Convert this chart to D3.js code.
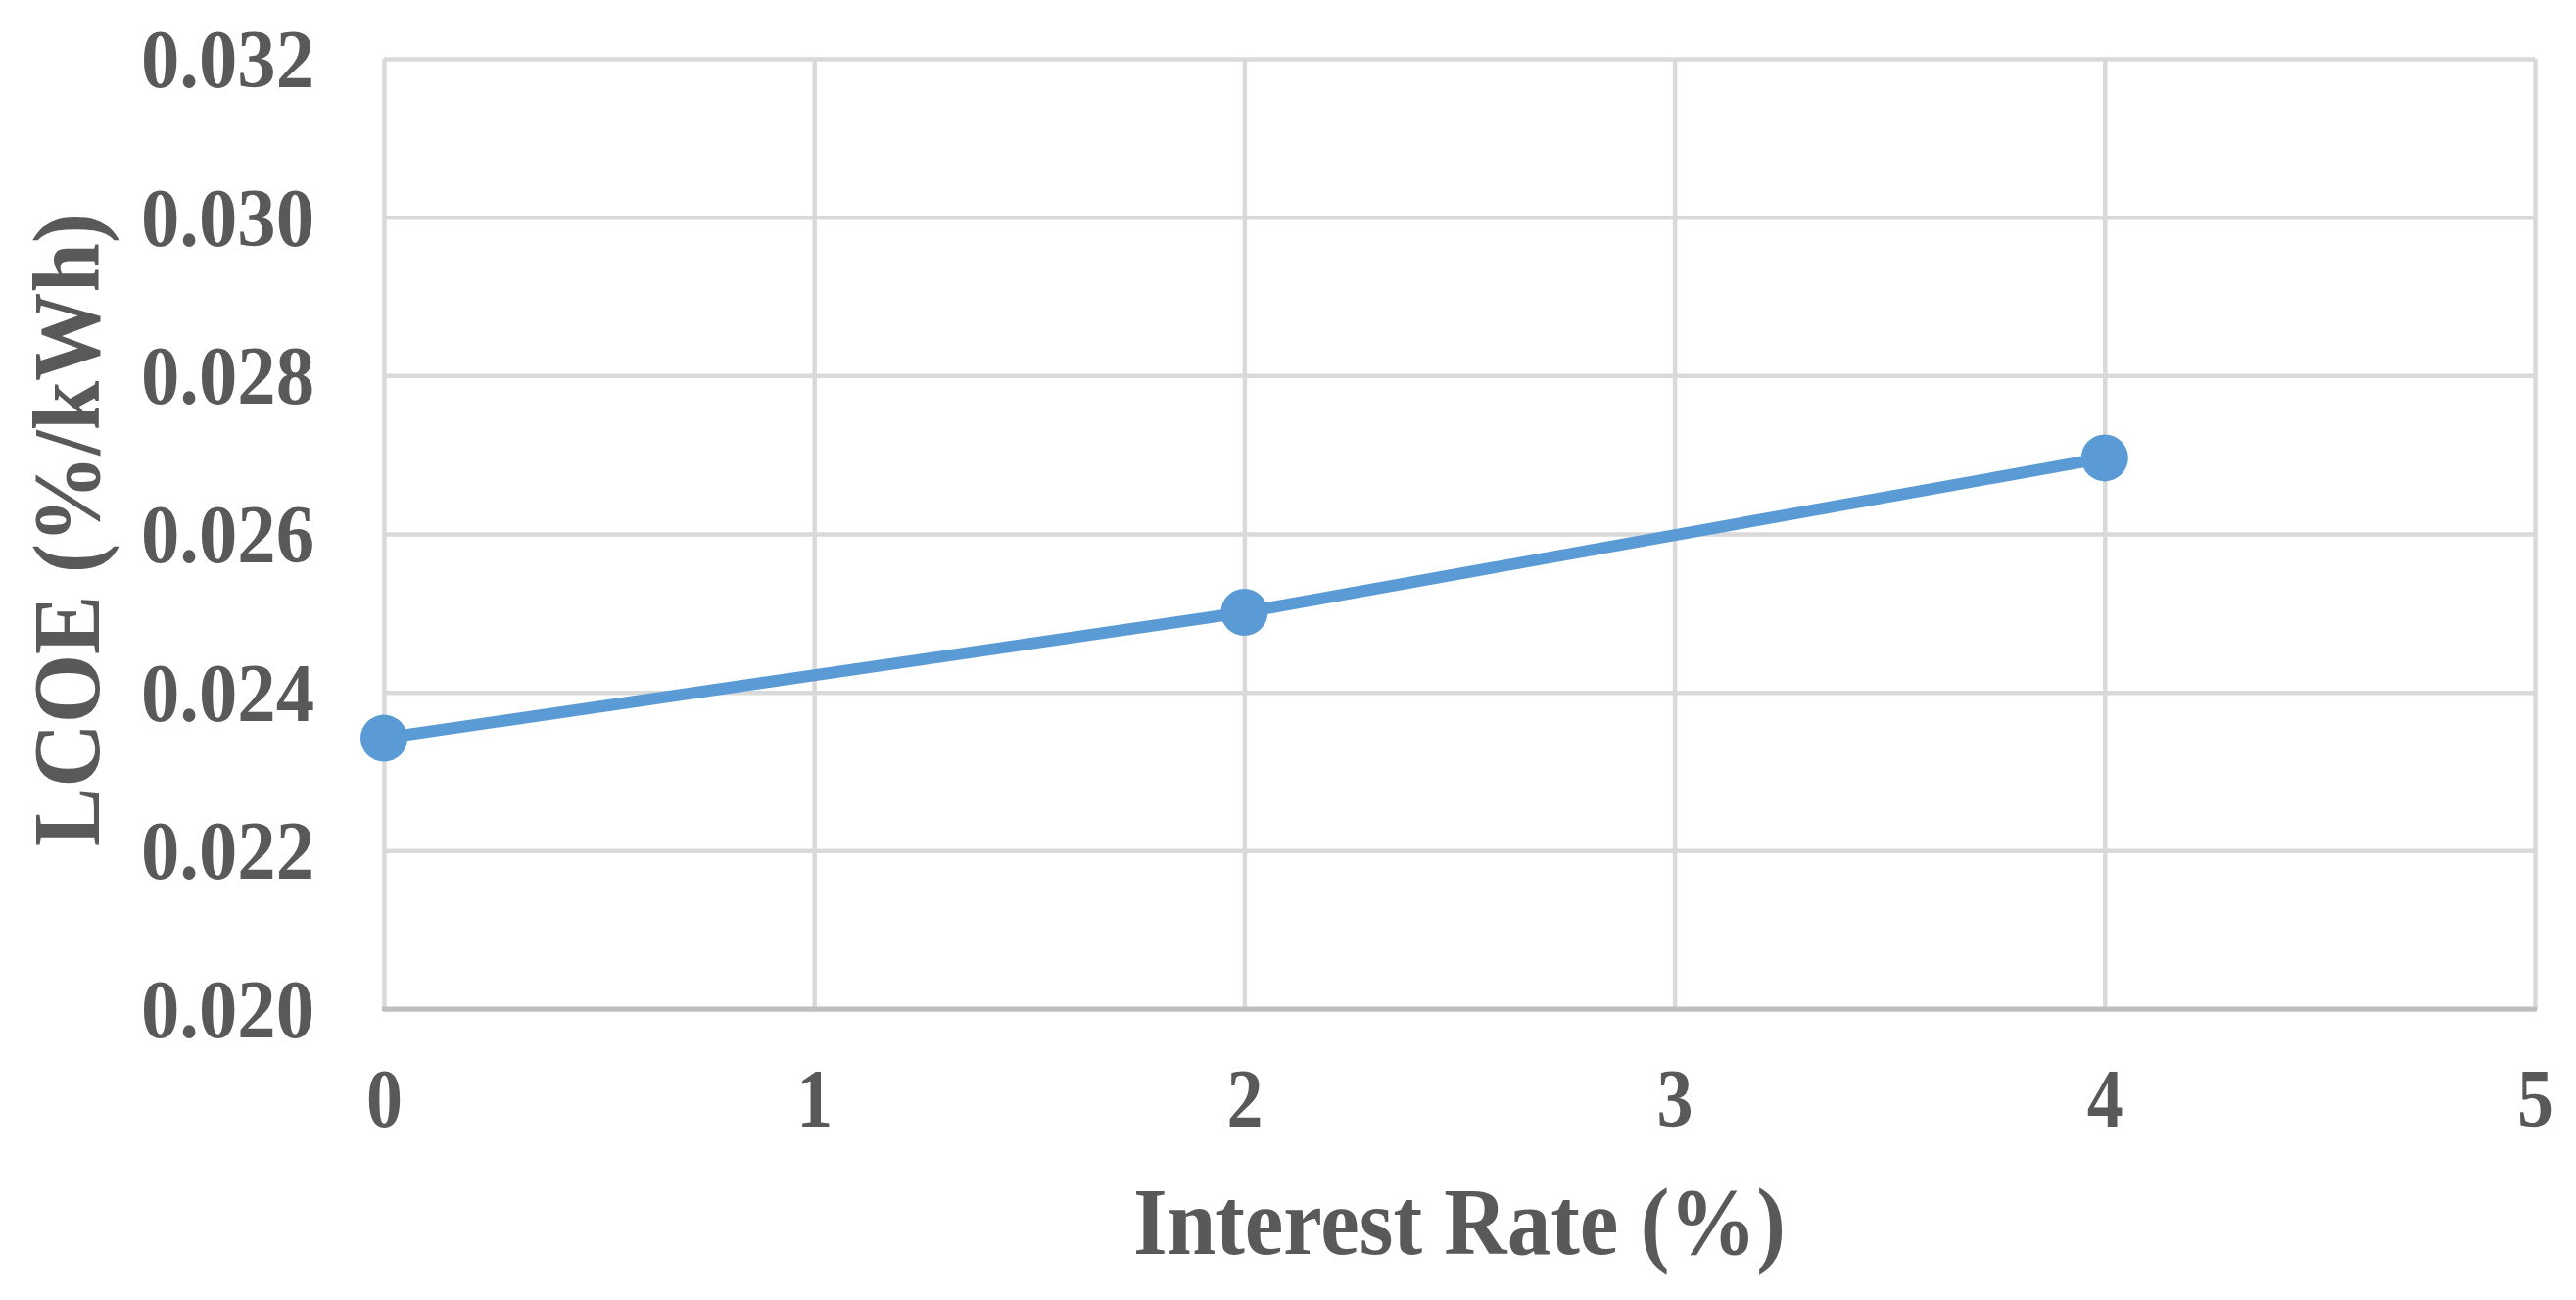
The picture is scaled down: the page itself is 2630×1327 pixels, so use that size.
<!DOCTYPE html>
<html>
<head>
<meta charset="utf-8">
<script src="https://cdn.jsdelivr.net/npm/d3@7"></script>
<style>
  html, body { margin: 0; padding: 0; background: #fff; }
  svg { display: block; }
  text { font-family: "Liberation Serif", "Times New Roman", serif; font-weight: bold; fill: #595959; }
</style>
</head>
<body>
<svg width="2630" height="1327"></svg>
<script>
// data
const rates = [0, 2, 4];
const lcoe = [0.02342, 0.02501, 0.02696];
const xTicks = [0, 1, 2, 3, 4, 5];
const yTicks = [0.020, 0.022, 0.024, 0.026, 0.028, 0.030, 0.032];
const xTitle = "Interest Rate (%)";
const yTitle = "LCOE (%/kWh)";

const data = rates.map((r, i) => ({ rate: r, value: lcoe[i] }));

function drawChart() {
  const svg = d3.select("svg");
  const width = +svg.attr("width");
  const height = +svg.attr("height");
  const margin = { top: 60, right: 42, bottom: 297, left: 392 };
  const innerWidth = width - margin.left - margin.right;
  const innerHeight = height - margin.top - margin.bottom;

  const g = svg.append("g")
    .attr("transform", `translate(${margin.left},${margin.top})`);

  const x = d3.scaleLinear().domain([0, 5]).range([0, innerWidth]);
  const y = d3.scaleLinear().domain([0.020, 0.032]).range([innerHeight, 0]);

  // horizontal gridlines + y labels
  const yAxis = g.append("g")
    .call(d3.axisLeft(y).tickValues(yTicks).tickFormat(d3.format(".3f"))
      .tickSize(-innerWidth).tickPadding(71));
  yAxis.select(".domain").remove();
  yAxis.selectAll("line").attr("stroke", "#d9d9d9").attr("stroke-width", 4.5);
  yAxis.selectAll("text")
    .attr("font-size", 84).attr("dy", "0.34em")
    .attr("textLength", 177).attr("lengthAdjust", "spacingAndGlyphs");

  // vertical gridlines + x labels
  const xAxis = g.append("g")
    .attr("transform", `translate(0,${innerHeight})`)
    .call(d3.axisBottom(x).tickValues(xTicks).tickFormat(d3.format("d"))
      .tickSize(innerHeight).tickPadding(0));
  xAxis.select(".domain").remove();
  xAxis.selectAll("line")
    .attr("stroke", "#d9d9d9").attr("stroke-width", 4.5)
    .attr("y1", 0).attr("y2", -innerHeight);
  xAxis.selectAll("text")
    .attr("font-size", 84).attr("y", 120).attr("dy", null)
    .attr("textLength", 37).attr("lengthAdjust", "spacingAndGlyphs");

  // bottom axis line
  g.append("line")
    .attr("x1", -2).attr("x2", innerWidth + 2)
    .attr("y1", innerHeight).attr("y2", innerHeight)
    .attr("stroke", "#bfbfbf").attr("stroke-width", 5);

  // series
  const line = d3.line().x(d => x(d.rate)).y(d => y(d.value));
  g.append("path")
    .datum(data)
    .attr("fill", "none")
    .attr("stroke", "#5b9bd5")
    .attr("stroke-width", 12)
    .attr("stroke-linejoin", "round")
    .attr("d", line);

  g.selectAll("circle")
    .data(data)
    .join("circle")
    .attr("cx", d => x(d.rate))
    .attr("cy", d => y(d.value))
    .attr("r", 24)
    .attr("fill", "#5b9bd5");

  // axis titles
  svg.append("text")
    .attr("x", margin.left + innerWidth / 2)
    .attr("y", 1280)
    .attr("text-anchor", "middle")
    .attr("font-size", 98)
    .attr("textLength", 666).attr("lengthAdjust", "spacingAndGlyphs")
    .text(xTitle);

  svg.append("text")
    .attr("transform", `translate(101,${margin.top + innerHeight / 2 - 4}) rotate(-90)`)
    .attr("text-anchor", "middle")
    .attr("font-size", 98)
    .attr("textLength", 646).attr("lengthAdjust", "spacingAndGlyphs")
    .text(yTitle);
}

drawChart();
</script>
</body>
</html>
